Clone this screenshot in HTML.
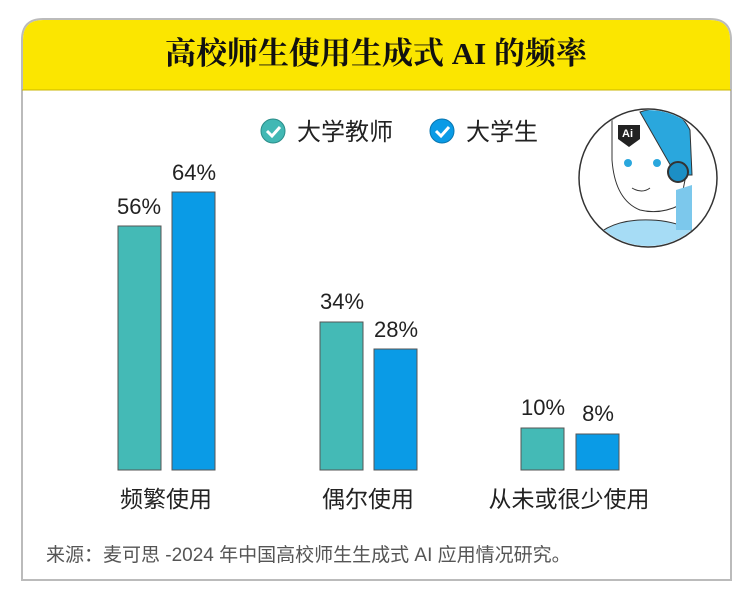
<!DOCTYPE html>
<html><head><meta charset="utf-8"><style>
body{margin:0;width:750px;height:600px;background:#fff;font-family:"Liberation Sans","Noto Sans CJK SC",sans-serif;}
svg text{font-family:"Liberation Sans","Noto Sans CJK SC",sans-serif;}
</style></head><body>
<svg width="750" height="600" viewBox="0 0 750 600">
<path d="M22,580 V40 Q22,19 43,19 H710 Q731,19 731,40 V580 Z" fill="#fff" stroke="#bbb" stroke-width="2"/>
<path d="M23,90 V40 Q23,20 43,20 H710 Q730,20 730,40 V90 Z" fill="#fbe600"/>
<line x1="22" y1="90" x2="731" y2="90" stroke="#c9b600" stroke-width="1"/>
<text x="376" y="64" text-anchor="middle" font-size="31" font-weight="bold" fill="#111" style="font-family:'Liberation Serif','Noto Serif CJK SC',serif">高校师生使用生成式 AI 的频率</text>
<!-- legend -->
<circle cx="273" cy="131" r="12" fill="#42b8b4" stroke="#2a8d89"/>
<path d="M267,131 l5,5 l8,-9" stroke="#fff" stroke-width="3" fill="none"/>
<text x="297" y="140" font-size="24" fill="#222">大学教师</text>
<circle cx="442" cy="131" r="12" fill="#0a9be6" stroke="#0876b0"/>
<path d="M436,131 l5,5 l8,-9" stroke="#fff" stroke-width="3" fill="none"/>
<text x="466" y="140" font-size="24" fill="#222">大学生</text>
<!-- bars -->
<g stroke="#555" stroke-width="1">
<rect x="118" y="226" width="43" height="244" fill="#44bab6"/>
<rect x="172" y="192" width="43" height="278" fill="#0a9be6"/>
<rect x="320" y="322" width="43" height="148" fill="#44bab6"/>
<rect x="374" y="349" width="43" height="121" fill="#0a9be6"/>
<rect x="521" y="428" width="43" height="42" fill="#44bab6"/>
<rect x="576" y="434" width="43" height="36" fill="#0a9be6"/>
</g>
<g font-size="22" fill="#222" text-anchor="middle">
<text x="139" y="214">56%</text>
<text x="194" y="180">64%</text>
<text x="342" y="309">34%</text>
<text x="396" y="337">28%</text>
<text x="543" y="415">10%</text>
<text x="598" y="421">8%</text>
<text x="166" y="507" font-size="23">频繁使用</text>
<text x="368" y="507" font-size="23">偶尔使用</text>
<text x="569" y="507" font-size="23">从未或很少使用</text>
</g>
<text x="46" y="561" font-size="19" fill="#555">来源：麦可思 -2024 年中国高校师生生成式 AI 应用情况研究。</text>
<!-- illustration -->
<circle cx="648" cy="178" r="69" fill="#fff" stroke="#333" stroke-width="1.5"/>
<clipPath id="c"><circle cx="648" cy="178" r="68"/></clipPath>
<g clip-path="url(#c)">
<path d="M585,250 Q600,222 640,220 Q690,218 715,250 Z" fill="#a6dcf5" stroke="#333"/>
<path d="M612,120 Q640,100 676,112 L688,165 L680,205 Q660,215 640,210 Q615,200 612,160 Z" fill="#fff" stroke="#333"/>
<path d="M640,112 Q675,100 690,130 L692,175 L676,175 Z" fill="#2aa7dd" stroke="#333"/>
<path d="M676,190 L676,230 L692,230 L692,185 Z" fill="#7cc8ec"/>
<circle cx="678" cy="172" r="10" fill="#1c8fc5" stroke="#333" stroke-width="2"/>
<circle cx="628" cy="163" r="4" fill="#2aa7dd"/>
<circle cx="657" cy="163" r="4" fill="#2aa7dd"/>
<path d="M632,188 Q642,194 650,188" stroke="#333" fill="none"/>
<path d="M618,125 h22 v14 l-11,8 l-11,-8 Z" fill="#222"/>
<text x="622" y="137" font-size="11" font-weight="bold" fill="#fff">Ai</text>
</g>
</svg>
</body></html>
